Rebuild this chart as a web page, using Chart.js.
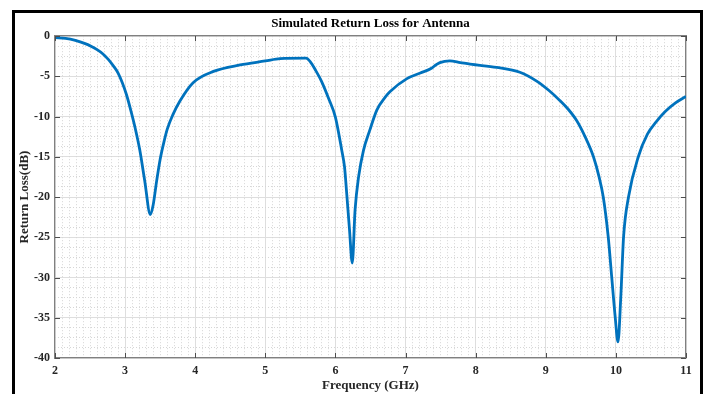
<!DOCTYPE html>
<html>
<head>
<meta charset="utf-8">
<script src="https://cdn.jsdelivr.net/npm/chart.js@4.4.0/dist/chart.umd.min.js"></script>
<style>
  html, body { margin: 0; padding: 0; background: #fff; overflow: hidden; }
  #wrap { position: relative; width: 708px; height: 394px; }
  #frame {
    position: absolute; left: 12px; top: 10px; width: 685px; height: 400px;
    border: 3px solid #000; pointer-events: none;
  }
</style>
</head>
<body>
<div id="wrap">
  <canvas id="chart" width="708" height="394"></canvas>
  <div id="frame"></div>
</div>
<script>
const freqGHz = [
  2.0, 2.15, 2.29, 2.43, 2.52, 2.6, 2.68, 2.76, 2.84, 2.9, 2.96, 3.02, 3.08, 3.14, 3.21,
  3.28, 3.36, 3.40, 3.45, 3.5, 3.55, 3.6, 3.68, 3.78, 3.97, 4.26, 4.64, 5.0, 5.21,
  5.58, 5.65, 5.72, 5.8, 5.9, 6.0, 6.09, 6.13, 6.16, 6.2, 6.24, 6.28, 6.33, 6.40,
  6.49, 6.59, 6.71, 6.78, 7.02, 7.21, 7.37, 7.43, 7.49, 7.63, 7.78, 7.92, 8.3, 8.63,
  8.87, 9.05, 9.2, 9.32, 9.44, 9.56, 9.68, 9.76, 9.82, 9.89, 9.94, 9.99, 10.03, 10.07,
  10.11, 10.18, 10.32, 10.45, 10.58, 10.7, 10.85, 11.0
];
const returnLossDb = [
  -0.2, -0.3, -0.55, -0.95, -1.3, -1.7, -2.2, -2.9, -3.8, -4.6, -5.8, -7.3, -9.2, -11.3, -14.2,
  -18.0, -22.2, -21.0, -18.0, -15.3, -13.3, -11.6, -9.8, -8.1, -5.8, -4.4, -3.6, -3.1, -2.8,
  -2.75, -3.3, -4.3, -5.6, -7.7, -10.1, -14.2, -16.3, -19.5, -24.0, -28.2, -21.6, -17.5, -14.2,
  -11.7, -9.2, -7.6, -6.9, -5.3, -4.6, -4.0, -3.6, -3.3, -3.1, -3.3, -3.5, -3.9, -4.5,
  -5.6, -6.8, -8.0, -9.1, -10.5, -12.5, -15.0, -17.5, -20.0, -24.9, -29.9, -34.9, -38.0, -32.4,
  -24.9, -20.0, -15.0, -12.2, -10.6, -9.4, -8.3, -7.5
];
const xRange = [2, 11];
const yRange = [-40, 0];
const xMajorStep = 1, xMinorStep = 0.1;
const yMajorStep = 5, yMinorStep = 1.25;

const FONT = { family: 'Liberation Serif', size: 12, weight: 'bold' };
const TITLE_FONT = { family: 'Liberation Serif', size: 13, weight: 'bold' };
const TEXT = '#262626';

function isMajor(v, step) {
  const r = v / step;
  return Math.abs(r - Math.round(r)) < 1e-6;
}

// MATLAB-style inward tick marks on all four sides
const inwardTicks = {
  id: 'inwardTicks',
  afterDatasetsDraw(chart) {
    const { ctx, chartArea: a, scales } = chart;
    ctx.save();
    ctx.strokeStyle = '#4d4d4d';
    ctx.lineWidth = 1;
    ctx.beginPath();
    scales.x.ticks.forEach(t => {
      const px = Math.round(scales.x.getPixelForValue(t.value)) + 0.5;
      ctx.moveTo(px, a.bottom); ctx.lineTo(px, a.bottom - 5);
      ctx.moveTo(px, a.top); ctx.lineTo(px, a.top + 5);
    });
    scales.y.ticks.forEach(t => {
      const py = Math.round(scales.y.getPixelForValue(t.value)) + 0.5;
      ctx.moveTo(a.left, py); ctx.lineTo(a.left + 5, py);
      ctx.moveTo(a.right, py); ctx.lineTo(a.right - 5, py);
    });
    ctx.stroke();
    ctx.restore();
  }
};

new Chart(document.getElementById('chart').getContext('2d'), {
  type: 'line',
  data: {
    datasets: [{
      data: freqGHz.map((f, i) => ({ x: f, y: returnLossDb[i] })),
      borderColor: '#0072BD',
      borderWidth: 2.8,
      pointRadius: 0,
      fill: false,
      cubicInterpolationMode: 'monotone',
    }],
  },
  options: {
    responsive: false,
    animation: false,
    layout: { padding: 0 },
    plugins: { legend: { display: false }, tooltip: { enabled: false } },
    scales: {
      x: {
        type: 'linear', position: 'bottom', min: xRange[0], max: xRange[1],
        afterFit(s) { s.height = 36; },
        ticks: { stepSize: xMajorStep, font: FONT, color: TEXT, padding: 6, maxRotation: 0 },
        grid: { color: '#dedede', drawTicks: false },
        border: { color: '#808080', width: 1.2 },
        title: { display: true, text: 'Frequency (GHz)', font: TITLE_FONT, color: TEXT, padding: { top: 0, bottom: 1 } },
      },
      y: {
        type: 'linear', position: 'left', min: yRange[0], max: yRange[1],
        afterFit(s) { s.width = 55; },
        ticks: { stepSize: yMajorStep, font: FONT, color: TEXT, padding: 5 },
        grid: { color: '#dedede', drawTicks: false },
        border: { color: '#808080', width: 1.2 },
        title: { display: true, text: 'Return Loss(dB)', font: TITLE_FONT, color: TEXT, padding: { top: 17, bottom: 0 } },
      },
      xMinor: {
        type: 'linear', position: 'top', min: xRange[0], max: xRange[1],
        afterFit(s) { s.height = 36; },
        ticks: { stepSize: xMinorStep, display: false },
        grid: {
          drawTicks: false,
          color: c => (isMajor(c.tick.value, xMajorStep) ? 'rgba(0,0,0,0)' : '#d6d6d6'),
        },
        border: { color: '#808080', width: 1.2, dash: [1, 2] },
        title: {
          display: true, text: 'Simulated Return Loss for Antenna',
          font: TITLE_FONT, color: '#000', padding: { top: 16, bottom: 0 },
        },
      },
      yMinor: {
        type: 'linear', position: 'right', min: yRange[0], max: yRange[1],
        afterFit(s) { s.width = 22; },
        ticks: { stepSize: yMinorStep, display: false },
        grid: {
          drawTicks: false,
          color: c => (isMajor(c.tick.value, yMajorStep) ? 'rgba(0,0,0,0)' : '#d6d6d6'),
        },
        border: { color: '#808080', width: 1.2, dash: [1, 2] },
      },
    },
  },
  plugins: [inwardTicks],
});
</script>
</body>
</html>
